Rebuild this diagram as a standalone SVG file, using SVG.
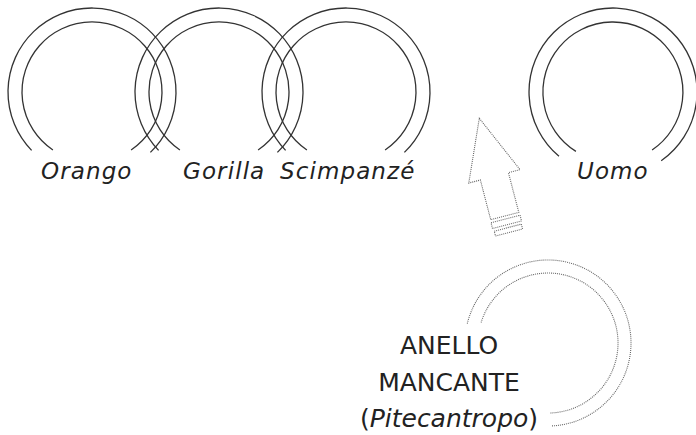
<svg xmlns="http://www.w3.org/2000/svg" width="696" height="435" viewBox="0 0 696 435">
<style>
.ring{fill:none;stroke:#333;stroke-width:1.3}
.dot{fill:none;stroke:#666;stroke-width:1.1;stroke-dasharray:1 1}
.lbl{font-family:"DejaVu Sans",Verdana,sans-serif;font-size:23px;font-style:italic;fill:#222;letter-spacing:1.1px}
.big{font-family:"DejaVu Sans",Verdana,sans-serif;font-size:25px;fill:#222;text-anchor:middle}
</style>
<rect width="696" height="435" fill="#fff"/>
<g id="orango">
<path class="ring" d="M31.6,150.4 A84,84 0 1 1 150.4,152.4"/>
<path class="ring" d="M52.9,150 A70,70 0 1 1 131.1,150"/>
<text class="lbl" x="41" y="179">Orango</text>
</g>
<g id="gorilla">
<path class="ring" d="M158.6,150.4 A84,84 0 1 1 277.4,152.4"/>
<path class="ring" d="M179.9,150 A70,70 0 1 1 258.1,150"/>
<text class="lbl" x="183" y="179">Gorilla</text>
</g>
<g id="scimpanze">
<path class="ring" d="M285.6,150.4 A84,84 0 1 1 404.4,152.4"/>
<path class="ring" d="M306.9,150 A70,70 0 1 1 385.1,150"/>
<text class="lbl" x="280" y="179">Scimpanzé</text>
</g>
<g id="uomo">
<path class="ring" d="M559,156.3 A84,84 0 1 1 661.2,160.8"/>
<path class="ring" d="M575.9,151.4 A70,70 0 1 1 652.1,150"/>
<text class="lbl" x="577" y="179">Uomo</text>
</g>
<g id="anello">
<path class="dot" d="M467.3,323.6 A83,83 0 1 1 551.6,425.9"/>
<path class="dot" d="M481.1,322.5 A70,70 0 1 1 550,413"/>
<text class="big" x="449" y="354">ANELLO</text>
<text class="big" x="449" y="391">MANCANTE</text>
<text class="big" x="449" y="427">(<tspan font-style="italic">Pitecantropo</tspan>)</text>
</g>
<g id="connectors">
<g transform="translate(479.3,118.3) rotate(-14.6)">
<path class="dot" d="M0,0 L26.5,60 L14.5,60 L14.5,101 L-14.5,101 L-14.5,60 L-26.5,60 Z"/>
<rect class="dot" x="-15" y="104" width="30" height="6"/>
<rect class="dot" x="-14" y="113" width="28" height="5"/>
</g>
</g>
</svg>
